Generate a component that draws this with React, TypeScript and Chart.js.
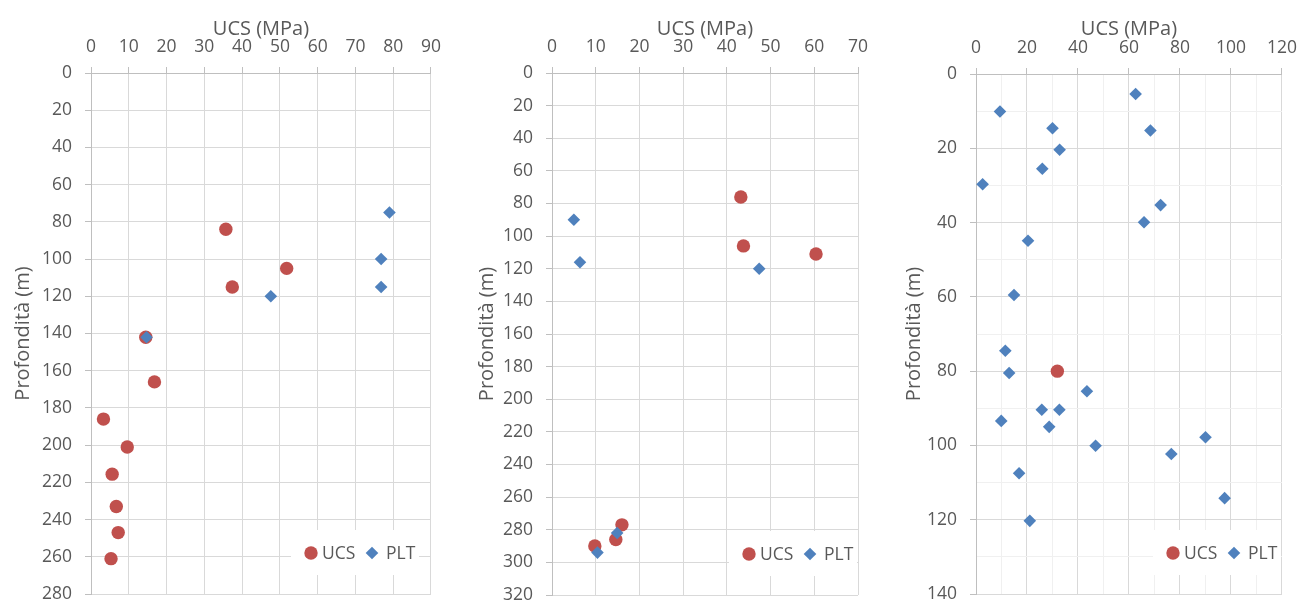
import React, { useEffect, useRef } from "react";
import { Chart, registerables } from "chart.js";
Chart.register(...registerables);

// ---- Data ----
// Panel 1
const ucs1X = [35.7, 51.8, 37.4, 14.5, 16.8, 3.3, 9.6, 5.6, 6.7, 7.2, 5.3];
const ucs1Y = [84, 105, 115, 142, 166, 186, 201, 215.6, 233, 247, 261];
const plt1X = [79, 76.8, 76.8, 47.6, 14.7];
const plt1Y = [75, 100, 115, 120, 142];
// Panel 2
const ucs2X = [43.2, 43.8, 60.4, 16.0, 14.6, 9.8];
const ucs2Y = [76, 106, 111, 277, 286, 290];
const plt2X = [5.0, 6.4, 47.4, 14.9, 10.4];
const plt2Y = [90, 116, 120, 282, 294];
// Panel 3
const ucs3X = [31.9];
const ucs3Y = [80];
const plt3X = [62.6, 9.4, 30.0, 68.4, 32.8, 26.0, 2.6, 72.4, 65.9, 20.4, 14.9, 11.5, 13.0, 43.5, 25.8, 32.7, 9.9, 28.7, 46.9, 90.0, 76.6, 16.9, 97.5, 21.1];
const plt3Y = [5.4, 10.1, 14.6, 15.2, 20.4, 25.5, 29.7, 35.3, 39.9, 44.9, 59.5, 74.5, 80.5, 85.4, 90.4, 90.4, 93.4, 95, 100.1, 97.8, 102.3, 107.5, 114.2, 120.3];

const xMax = [90, 70, 120];
const yMax = [280, 320, 140];
const xStep = [10, 10, 10];
const xLabelEvery = [10, 10, 20];
const yStep = [20, 20, 10];
const yLabelEvery = [20, 20, 20];

const xTitle = "UCS (MPa)";
const yTitle = "Profondità (m)";
const seriesNames = ["UCS", "PLT"];

const RED = "#C0504D";
const BLUE = "#4F81BD";
const TEXT = "#595959";
const GRID = "#d9d9d9";
const MINOR = "#f0f0f0";
const AXIS = "#bfbfbf";
const FONT = "'Open Sans', sans-serif";

const zip = (xs: number[], ys: number[]) => xs.map((x, i) => ({ x, y: ys[i] }));

const panels = [
  { left: 0, width: 450, plotRight: 431, plotTop: 73, plotBottom: 594, yTitlePad: 11, legendOffset: -120, ucs: zip(ucs1X, ucs1Y), plt: zip(plt1X, plt1Y) },
  { left: 461, width: 430, plotRight: 858, plotTop: 73, plotBottom: 595, yTitlePad: 14, legendOffset: -109, ucs: zip(ucs2X, ucs2Y), plt: zip(plt2X, plt2Y) },
  { left: 885, width: 421, plotRight: 1287, plotTop: 74, plotBottom: 594, yTitlePad: 17.5, legendOffset: -109, ucs: zip(ucs3X, ucs3Y), plt: zip(plt3X, plt3Y) },
];

const CANVAS_H = 620;

const legendPlugin = {
  id: "insideLegend",
  afterDraw(chart: any, _args: any, opts: any) {
    const { ctx, chartArea } = chart;
    const cx = chartArea.right + opts.offset;
    const cy = chartArea.bottom - 41;
    ctx.save();
    ctx.fillStyle = "#ffffff";
    ctx.fillRect(cx - 20, cy - 23, 128, 45);
    ctx.fillStyle = RED;
    ctx.beginPath();
    ctx.arc(cx, cy, 6.7, 0, Math.PI * 2);
    ctx.fill();
    ctx.font = `17.5px ${FONT}`;
    ctx.textBaseline = "middle";
    ctx.textAlign = "left";
    ctx.fillStyle = TEXT;
    ctx.fillText(seriesNames[0], cx + 11, cy + 1);
    const dx = cx + 61;
    ctx.fillStyle = BLUE;
    ctx.beginPath();
    ctx.moveTo(dx - 6.3, cy);
    ctx.lineTo(dx, cy - 6.3);
    ctx.lineTo(dx + 6.3, cy);
    ctx.lineTo(dx, cy + 6.3);
    ctx.closePath();
    ctx.fill();
    ctx.fillStyle = TEXT;
    ctx.fillText(seriesNames[1], cx + 75, cy + 1);
    ctx.restore();
  },
};

function Panel({ idx }: { idx: number }) {
  const ref = useRef<HTMLCanvasElement>(null);
  const p = panels[idx];
  useEffect(() => {
    if (!ref.current) return;
    const xEvery = xLabelEvery[idx];
    const yEvery = yLabelEvery[idx];
    const isMajorX = (v: number) => Math.abs(v % xEvery) < 1e-6;
    const isMajorY = (v: number) => Math.abs(v % yEvery) < 1e-6;
    const chart = new Chart(ref.current, {
      type: "scatter",
      data: {
        datasets: [
          {
            label: seriesNames[1],
            data: p.plt,
            pointStyle: "rectRot",
            pointRadius: 6.3,
            pointHoverRadius: 6.3,
            backgroundColor: BLUE,
            borderColor: BLUE,
            borderWidth: 0,
            order: 0,
          },
          {
            label: seriesNames[0],
            data: p.ucs,
            pointStyle: "circle",
            pointRadius: 6.7,
            pointHoverRadius: 6.7,
            backgroundColor: RED,
            borderColor: RED,
            borderWidth: 0,
            order: 1,
          },
        ],
      },
      options: {
        responsive: false,
        animation: false,
        events: [],
        layout: {
          padding: {
            left: 0,
            top: 0,
            right: p.left + p.width - p.plotRight,
            bottom: CANVAS_H - p.plotBottom,
          },
        },
        plugins: {
          legend: { display: false },
          tooltip: { enabled: false },
          insideLegend: { offset: p.legendOffset },
        } as any,
        scales: {
          x: {
            type: "linear",
            position: "top",
            min: 0,
            max: xMax[idx],
            afterFit: (s: any) => {
              s.height = p.plotTop;
            },
            ticks: {
              stepSize: xStep[idx],
              autoSkip: false,
              maxRotation: 0,
              padding: 9,
              color: TEXT,
              font: { family: FONT, size: 17.5 },
              callback: (v: any) => (isMajorX(Number(v)) ? String(v) : ""),
            },
            grid: {
              color: (c: any) => (c.tick && !isMajorX(c.tick.value) ? MINOR : GRID),
              tickColor: (c: any) => (c.tick && !isMajorX(c.tick.value) ? "rgba(0,0,0,0)" : AXIS),
              tickLength: 6,
              lineWidth: 1,
            },
            border: { color: AXIS, width: 1 },
            title: {
              display: true,
              text: xTitle,
              color: TEXT,
              font: { family: FONT, size: 20 },
              padding: { top: 17, bottom: 0 },
            },
          },
          y: {
            type: "linear",
            reverse: true,
            min: 0,
            max: yMax[idx],
            afterFit: (s: any) => {
              s.width = 91;
            },
            ticks: {
              stepSize: yStep[idx],
              autoSkip: false,
              padding: 13,
              color: TEXT,
              font: { family: FONT, size: 17.5 },
              callback: (v: any) => (isMajorY(Number(v)) ? String(v) : ""),
            },
            grid: {
              color: (c: any) => (c.tick && !isMajorY(c.tick.value) ? MINOR : GRID),
              tickColor: (c: any) => (c.tick && !isMajorY(c.tick.value) ? "rgba(0,0,0,0)" : AXIS),
              tickLength: 6,
              lineWidth: 1,
            },
            border: { color: AXIS, width: 1 },
            title: {
              display: true,
              text: yTitle,
              color: TEXT,
              font: { family: FONT, size: 20 },
              padding: { top: p.yTitlePad, bottom: 0 },
            },
          },
        },
      },
      plugins: [legendPlugin],
    } as any);
    return () => chart.destroy();
  }, [idx]);
  return (
    <canvas
      ref={ref}
      width={p.width}
      height={CANVAS_H}
      style={{ position: "absolute", left: p.left, top: 0, width: p.width, height: CANVAS_H }}
    />
  );
}

export default function App() {
  return (
    <div
      style={{
        position: "absolute",
        left: 0,
        top: 0,
        width: 1306,
        height: 600,
        overflow: "hidden",
        background: "#ffffff",
      }}
    >
      {panels.map((_, i) => (
        <Panel key={i} idx={i} />
      ))}
    </div>
  );
}
